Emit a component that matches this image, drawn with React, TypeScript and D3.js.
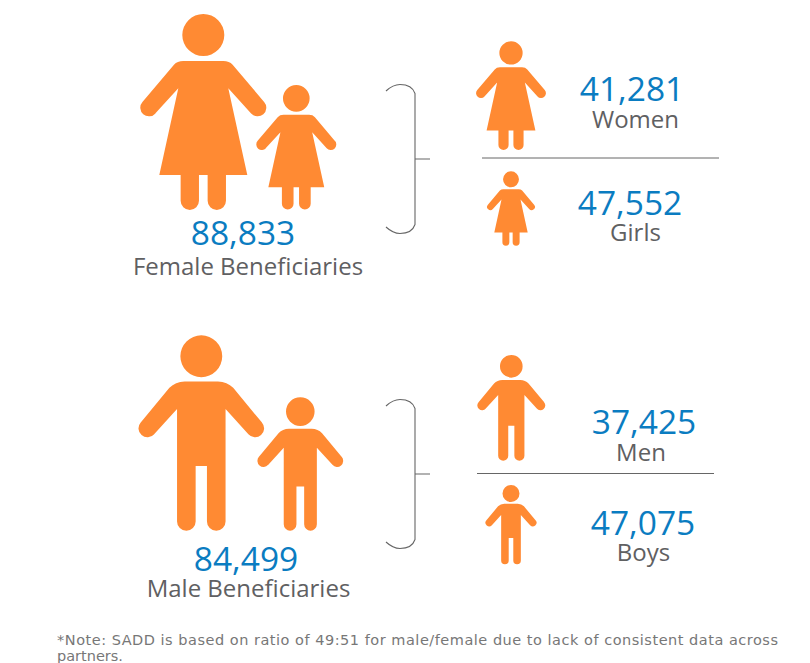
import React from 'react';
import * as d3 from 'd3';

// Beneficiary counts
const totalLabels = ['Female Beneficiaries', 'Male Beneficiaries'];
const totalValues = [88833, 84499];
const groupLabels = ['Women', 'Girls', 'Men', 'Boys'];
const groupValues = [41281, 47552, 37425, 47075];
const noteLines = [
  '*Note: SADD is based on ratio of 49:51 for male/female due to lack of consistent data across',
  'partners.',
];

const ORANGE = '#FF8A33';
const BLUE = '#0A7CC1';
const GREY = '#5F6062';
const LINE = '#666666';
const SANS = '"Open Sans", sans-serif';

const GLYPH_H = 588; // pictograms are drawn on a 588 unit tall grid
const fmt = d3.format(',');

const femaleGlyph = () => {
  const p = d3.path();
  p.moveTo(60, 141);
  p.quadraticCurveTo(78, 141, 88, 152);
  p.lineTo(182.5, 264);
  p.arc(163, 281, 26, -0.72, 2.42);
  p.lineTo(75, 223);
  p.lineTo(132, 483);
  p.lineTo(68, 483);
  p.lineTo(68, 560.5);
  p.arc(40.5, 560.5, 27.5, 0, Math.PI);
  p.lineTo(13, 483);
  p.lineTo(-13, 483);
  p.lineTo(-13, 560.5);
  p.arc(-40.5, 560.5, 27.5, 0, Math.PI);
  p.lineTo(-68, 483);
  p.lineTo(-132, 483);
  p.lineTo(-75, 223);
  p.lineTo(-143.5, 298);
  p.arc(-163, 281, 26, 0.72, 3.86);
  p.lineTo(-88, 152);
  p.quadraticCurveTo(-78, 141, -60, 141);
  p.closePath();
  p.moveTo(63, 63);
  p.arc(0, 63, 63, 0, Math.PI * 2);
  return p.toString();
};

const maleGlyph = () => {
  const p = d3.path();
  p.moveTo(50, 139);
  p.quadraticCurveTo(78, 140, 96, 158);
  p.lineTo(182, 262);
  p.arc(162, 280, 27, -0.72, 2.42);
  p.lineTo(73, 222);
  p.lineTo(73, 560);
  p.arc(45, 560, 28, 0, Math.PI);
  p.lineTo(17, 393);
  p.lineTo(-17, 393);
  p.lineTo(-17, 560);
  p.arc(-45, 560, 28, 0, Math.PI);
  p.lineTo(-73, 222);
  p.lineTo(-142, 298);
  p.arc(-162, 280, 27, 0.72, 3.86);
  p.lineTo(-96, 158);
  p.quadraticCurveTo(-78, 140, -50, 139);
  p.closePath();
  p.moveTo(63, 63);
  p.arc(0, 63, 63, 0, Math.PI * 2);
  return p.toString();
};

const Figure = ({ d, cx, top, bottom }: { d: string; cx: number; top: number; bottom: number }) => {
  const y = d3.scaleLinear().domain([0, GLYPH_H]).range([top, bottom]);
  const k = y(1) - y(0);
  return <path d={d} fill={ORANGE} transform={`translate(${cx},${top}) scale(${k})`} />;
};

const Bracket = ({ top, bottom, mid }: { top: number; bottom: number; mid: number }) => {
  const p = d3.path();
  const x0 = 386;
  const x1 = 415;
  p.moveTo(x0, top + 6.5);
  p.bezierCurveTo(x0 + 6, top + 1, x0 + 10, top, x0 + 14, top);
  p.bezierCurveTo(x0 + 21, top, x1 - 2, top + 3, x1, top + 9);
  p.lineTo(x1, bottom - 9);
  p.bezierCurveTo(x1 - 2, bottom - 3, x0 + 21, bottom, x0 + 14, bottom);
  p.bezierCurveTo(x0 + 10, bottom, x0 + 6, bottom - 1, x0, bottom - 6.5);
  p.moveTo(x1, mid);
  p.lineTo(x1 + 15, mid);
  return <path d={p.toString()} fill="none" stroke={LINE} strokeWidth={1.1} />;
};

const NumberLabel = ({ x, y, value }: { x: number; y: number; value: number }) => (
  <text x={x} y={y} textAnchor="middle" fontFamily={SANS} fontSize={33.5} fill={BLUE}>
    {fmt(value)}
  </text>
);

const NameLabel = ({ x, y, text }: { x: number; y: number; text: string }) => (
  <text x={x} y={y} textAnchor="middle" fontFamily={SANS} fontSize={24} fill={GREY}>
    {text}
  </text>
);

export default function App() {
  const female = femaleGlyph();
  const male = maleGlyph();

  return (
    <svg width={810} height={663} style={{ position: 'absolute', left: 0, top: 0 }}>
      {/* female block */}
      <Figure d={female} cx={203.3} top={14} bottom={210} />
      <Figure d={female} cx={296.3} top={85} bottom={209.5} />
      <NumberLabel x={243} y={245} value={totalValues[0]} />
      <NameLabel x={248} y={275} text={totalLabels[0]} />
      <Bracket top={84.5} bottom={233.5} mid={159} />
      <Figure d={female} cx={511} top={41.3} bottom={150} />
      <NumberLabel x={632} y={101} value={groupValues[0]} />
      <NameLabel x={635.5} y={127.5} text={groupLabels[0]} />
      <line x1={482} x2={719} y1={158} y2={158} stroke={LINE} strokeWidth={1} />
      <Figure d={female} cx={511} top={171.3} bottom={245.7} />
      <NumberLabel x={630} y={215} value={groupValues[1]} />
      <NameLabel x={635.5} y={241} text={groupLabels[1]} />

      {/* male block */}
      <Figure d={male} cx={201.3} top={335.3} bottom={530.7} />
      <Figure d={male} cx={300.3} top={397.3} bottom={530.7} />
      <NumberLabel x={246} y={570.5} value={totalValues[1]} />
      <NameLabel x={248.5} y={596.5} text={totalLabels[1]} />
      <Bracket top={399.5} bottom={548.5} mid={474} />
      <Figure d={male} cx={511.3} top={355} bottom={460.7} />
      <NumberLabel x={644} y={433.5} value={groupValues[2]} />
      <NameLabel x={641} y={460.5} text={groupLabels[2]} />
      <line x1={477} x2={714} y1={473.5} y2={473.5} stroke={LINE} strokeWidth={1} />
      <Figure d={male} cx={511} top={485} bottom={564.3} />
      <NumberLabel x={643} y={535} value={groupValues[3]} />
      <NameLabel x={643.5} y={560.5} text={groupLabels[3]} />

      {/* footnote, stretched to the measured width of the first line */}
      {noteLines.map((line, i) => (
        <text
          key={line}
          x={57}
          y={645 + i * 16}
          fontFamily='"DejaVu Sans", sans-serif'
          fontSize={14.5}
          fill="#777777"
          {...(i === 0 ? { textLength: 721, lengthAdjust: 'spacing' } : {})}
        >
          {line}
        </text>
      ))}
    </svg>
  );
}
